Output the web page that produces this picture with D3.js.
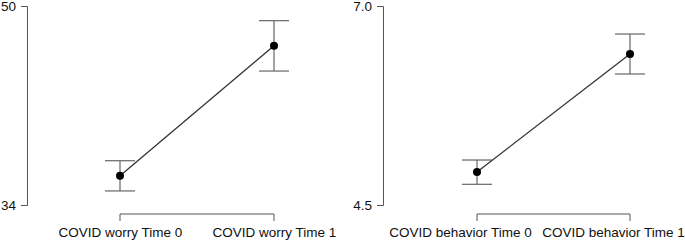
<!DOCTYPE html>
<html>
<head>
<meta charset="utf-8">
<script src="https://cdn.jsdelivr.net/npm/d3@7"></script>
<style>
  body { margin: 0; background: #fff; }
  svg text { font-family: "Liberation Sans", Arial, sans-serif; font-size: 13px; fill: #111; }
</style>
</head>
<body>
<svg id="chart" width="685" height="241"></svg>
<script>
// left panel: COVID worry
const worryLabels = ["COVID worry Time 0", "COVID worry Time 1"];
const worryMean = [36.36, 46.8];
const worryLow = [35.13, 44.77];
const worryHigh = [37.56, 48.82];
const worryTicks = [34, 50];

// right panel: COVID behavior
const behLabels = ["COVID behavior Time 0", "COVID behavior Time 1"];
const behMean = [4.915, 6.397];
const behLow = [4.76, 6.146];
const behHigh = [5.065, 6.648];
const behTicks = [4.5, 7.0];

const svg = d3.select("#chart");

function panel(opts) {
  const g = svg.append("g");

  const y = d3.scaleLinear().domain(opts.yDomain).range([205, 6]);
  const x = d3.scalePoint().domain(opts.labels).range(opts.xRange);

  // y axis (bracket style)
  const yAxis = g.append("g")
    .attr("transform", `translate(${opts.axisX},0)`)
    .call(d3.axisLeft(y).tickValues(opts.ticks).tickFormat(opts.fmt).tickSize(6).tickPadding(5));
  yAxis.selectAll("path, line").attr("stroke", "#555");
  yAxis.selectAll("text").style("font-size", "13.5px").attr("fill", "#111");

  // x axis
  const xAxis = g.append("g")
    .attr("transform", "translate(0,214)")
    .call(d3.axisBottom(x).tickSize(7).tickPadding(5).tickSizeOuter(0));
  xAxis.select(".domain").attr("d", `M${opts.xRange[0]},7V0H${opts.xRange[1]}V7`).attr("stroke", "#555");
  xAxis.selectAll(".tick line").remove();
  xAxis.selectAll("text")
    .style("font-size", "13.5px")
    .attr("fill", "#111")
    .attr("y", 23)
    .attr("dy", null)
    .attr("dx", opts.labelShift);

  const data = opts.labels.map((l, i) => ({ l, m: opts.mean[i], lo: opts.low[i], hi: opts.high[i] }));

  // error bars
  const eb = g.selectAll(".eb").data(data).enter().append("g").attr("stroke", "#666").attr("stroke-width", 1.2);
  eb.append("line")
    .attr("x1", d => x(d.l)).attr("x2", d => x(d.l))
    .attr("y1", d => y(d.lo)).attr("y2", d => y(d.hi));
  eb.append("line")
    .attr("x1", d => x(d.l) - 15).attr("x2", d => x(d.l) + 15)
    .attr("y1", d => y(d.hi)).attr("y2", d => y(d.hi));
  eb.append("line")
    .attr("x1", d => x(d.l) - 15).attr("x2", d => x(d.l) + 15)
    .attr("y1", d => y(d.lo)).attr("y2", d => y(d.lo));

  // connecting line
  g.append("path")
    .datum(data)
    .attr("fill", "none")
    .attr("stroke", "#333")
    .attr("stroke-width", 1.3)
    .attr("d", d3.line().x(d => x(d.l)).y(d => y(d.m)));

  g.selectAll(".pt").data(data).enter().append("circle")
    .attr("cx", d => x(d.l)).attr("cy", d => y(d.m))
    .attr("r", 4).attr("fill", "#000");
}

panel({
  labels: worryLabels, mean: worryMean, low: worryLow, high: worryHigh,
  ticks: worryTicks, yDomain: [34, 50], fmt: d3.format("d"),
  axisX: 27, xRange: [120, 274], labelShift: 0
});

panel({
  labels: behLabels, mean: behMean, low: behLow, high: behHigh,
  ticks: behTicks, yDomain: [4.5, 7.0], fmt: d3.format(".1f"),
  axisX: 383, xRange: [477, 630], labelShift: -17
});
</script>
</body>
</html>
